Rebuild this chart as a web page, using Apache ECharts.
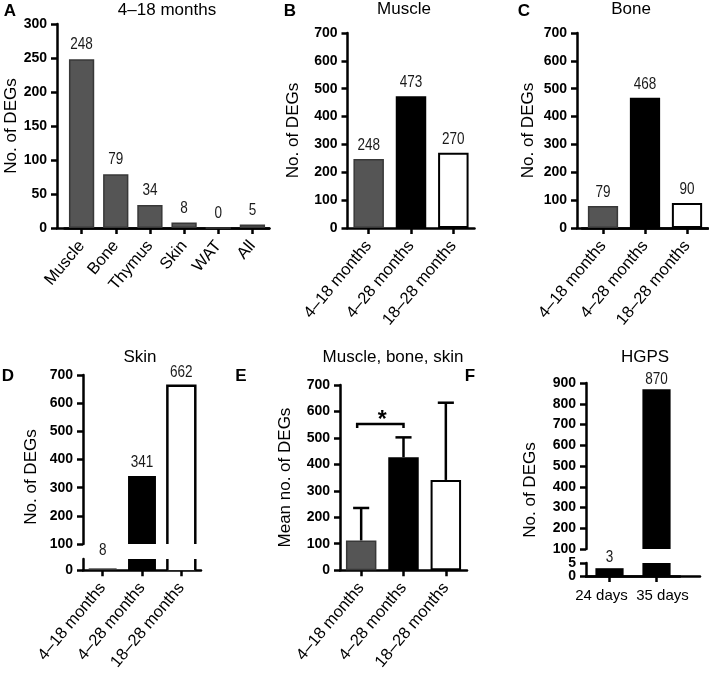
<!DOCTYPE html>
<html><head><meta charset="utf-8">
<script src="https://cdn.jsdelivr.net/npm/echarts@6/dist/echarts.min.js"></script>
<style>html,body{margin:0;padding:0;background:#fff}#c{width:709px;height:673px}</style>
</head><body><div id="c"></div>
<script>
// ---------------- data ----------------
const tissueCats = ['Muscle', 'Bone', 'Thymus', 'Skin', 'WAT', 'All'];
const tissueDEGs = [248, 79, 34, 8, 0, 5];
const periodCats = ['4–18 months', '4–28 months', '18–28 months'];
const muscleDEGs = [248, 473, 270];
const boneDEGs = [79, 468, 90];
const skinDEGs = [8, 341, 662];
const meanDEGs = [112, 427, 341];
const sdDEGs = [123, 75, 292];
const sigPair = [0, 1];
const sigLevel = [537, 553];
const sigMark = '*';
const hgpsCats = ['24 days', '35 days'];
const hgpsDEGs = [3, 870];
// value-axis ranges: [min, max, step]
const yA = [0, 300, 50];
const yB = [0, 700, 100];
const yC = [0, 700, 100];
const yDUpper = [100, 700, 100];
const yDLower = [0, 50, 50];
const yE = [0, 700, 100];
const yFUpper = [100, 900, 100];
const yFLower = [0, 5, 5];
const yFLowerTicks = [0, 5];

// ---------------- styles ----------------
const FONT = "'Liberation Sans', Arial, Helvetica, sans-serif";
const LINE = { color: '#000', width: 2.5 };
const GRAY = { color: '#555555', borderColor: '#383838', borderWidth: 1.5 };
const BLACK = { color: '#000000' };
const WHITE = { color: '#ffffff', borderColor: '#000000', borderWidth: 2 };
const periodStyle = [GRAY, BLACK, WHITE];
const ROT = 50;

const grids = [], xAxes = [], yAxes = [], series = [], graphics = [];

function addGrid(left, top, width, height) {
  grids.push({ left: left, top: top, width: width, height: height, containLabel: false });
  return grids.length - 1;
}
function yAxisDef(gi, r, extra) {
  return Object.assign({
    type: 'value', gridIndex: gi, min: r[0], max: r[1], interval: r[2],
    axisLine: { show: true, lineStyle: LINE },
    axisTick: { show: true, length: 6, lineStyle: LINE },
    axisLabel: { fontFamily: FONT, fontWeight: 'bold', fontSize: 14, color: '#000', margin: 10,
                 hideOverlap: false, showMinLabel: true, showMaxLabel: true },
    splitLine: { show: false },
    nameTextStyle: { fontFamily: FONT, fontSize: 17, color: '#000' }
  }, extra || {});
}
function xCat(gi, cats, extra) {
  return Object.assign({
    type: 'category', gridIndex: gi, data: cats,
    axisLine: { show: true, onZero: false, lineStyle: LINE },
    axisTick: { show: true, alignWithLabel: true, length: 6, lineStyle: LINE },
    axisLabel: { interval: 0, rotate: ROT, fontFamily: FONT, fontSize: 16.5, color: '#000', margin: 15 }
  }, extra || {});
}
function addAxes(x, y) { xAxes.push(x); yAxes.push(y); return [xAxes.length - 1, yAxes.length - 1]; }
function baseLine(left, top, width, height) {
  const gi = addGrid(left, top, width, height);
  addAxes({ type: 'value', gridIndex: gi, min: 0, max: 1, axisLine: { show: true, onZero: false, lineStyle: LINE },
            axisTick: { show: false }, axisLabel: { show: false }, splitLine: { show: false } },
          { type: 'value', gridIndex: gi, show: false });
}
// value labels above bars, drawn as horizontally condensed text through the axes' scales
function addValueLabels(ax, vals, dist, range) {
  series.push({ type: 'custom', xAxisIndex: ax[0], yAxisIndex: ax[1], z: 6, clip: false,
    data: vals.map(function (v, i) { return [i, v]; })
      .filter(function (d) { return !range || (d[1] > range[0] && d[1] <= range[1]); }),
    renderItem: function (p, api) {
      const v = api.value(1);
      const c = api.coord([api.value(0), v]);
      return { type: 'text', x: c[0], y: c[1] - dist, scaleX: 0.82,
        style: { text: String(v), fontFamily: FONT, fontSize: 16.5, fill: '#1a1a1a',
                 align: 'center', verticalAlign: 'bottom' } };
    } });
}
function text(x, y, t, size, weight, rot) {
  graphics.push({ type: 'text', x: x, y: y, rotation: rot || 0,
    style: { text: t, fontFamily: FONT, fontSize: size, fontWeight: weight || 'normal', fill: '#000',
             align: 'center', verticalAlign: 'middle', textAlign: 'center', textVerticalAlign: 'middle' } });
}

// ---------------- Panel A ----------------
(function () {
  const gi = addGrid(64.5, 24, 205, 204);
  const ax = addAxes(xCat(gi, tissueCats),
    yAxisDef(gi, yA, { offset: 7.5, name: 'No. of DEGs', nameLocation: 'middle', nameGap: 34 }));
  series.push({ type: 'bar', xAxisIndex: ax[0], yAxisIndex: ax[1], data: tissueDEGs, barWidth: '74%',
    itemStyle: GRAY });
  addValueLabels(ax, tissueDEGs, 6);
  baseLine(57, 24, 212, 204);
})();

// ---------------- Panels B, C ----------------
function periodPanel(left, top, width, height, vals, yr, offset, nameGap) {
  const gi = addGrid(left, top, width, height);
  const ax = addAxes(xCat(gi, periodCats),
    yAxisDef(gi, yr, { offset: offset, name: 'No. of DEGs', nameLocation: 'middle', nameGap: nameGap }));
  series.push({ type: 'bar', xAxisIndex: ax[0], yAxisIndex: ax[1], barWidth: '72%',
    data: vals.map(function (v, i) { return { value: v, itemStyle: periodStyle[i] }; }) });
  addValueLabels(ax, vals, 5);
}
periodPanel(347.5, 33, 127, 195, muscleDEGs, yB, 0, 46);
periodPanel(582, 33, 126, 195, boneDEGs, yC, 5, 40);
baseLine(577, 33, 131, 195);

// ---------------- Panel D (broken axis) ----------------
function outlineRender(params, api) {
  const cs = params.coordSys;
  const i = api.value(0), v = api.value(1);
  const c = api.coord([i, v]);
  const bw = api.size([1, 0])[0] * 0.71;
  const l = c[0] - bw / 2, r = c[0] + bw / 2;
  const bottom = cs.y + cs.height;
  if (c[1] >= bottom) return null;
  const st = { stroke: '#000', lineWidth: 2.5, fill: null };
  if (c[1] < cs.y) {
    return { type: 'group', children: [
      { type: 'line', shape: { x1: l, y1: cs.y, x2: l, y2: bottom }, style: st },
      { type: 'line', shape: { x1: r, y1: cs.y, x2: r, y2: bottom }, style: st }] };
  }
  return { type: 'polyline', shape: { points: [[l, bottom], [l, c[1]], [r, c[1]], [r, bottom]] }, style: st };
}
(function () {
  const gu = addGrid(83, 375, 118, 169);
  const gl = addGrid(83, 559, 118, 20);
  const au = addAxes(xCat(gu, periodCats, { show: false }), yAxisDef(gu, yDUpper));
  const al = addAxes(xCat(gl, periodCats), yAxisDef(gl, yDLower));
  [[au, yDUpper, 5], [al, yDLower, 9]].forEach(function (p) {
    const ax = p[0], r = p[1];
    series.push({ type: 'bar', xAxisIndex: ax[0], yAxisIndex: ax[1], barWidth: '71%', clip: true,
      data: skinDEGs.map(function (v, i) {
        const s = periodStyle[i] === WHITE ? { color: '#fff', borderWidth: 0 } : periodStyle[i];
        return { value: v, itemStyle: s };
      }) });
    series.push({ type: 'custom', xAxisIndex: ax[0], yAxisIndex: ax[1], z: 3, renderItem: outlineRender,
      data: skinDEGs.map(function (v, i) { return [i, v, periodStyle[i] === WHITE ? 1 : 0]; })
        .filter(function (d) { return d[2] === 1; }) });
    addValueLabels(ax, skinDEGs, p[2], r);
  });
  text(31, 477, 'No. of DEGs', 17, 'normal', Math.PI / 2);
})();

// ---------------- Panel E ----------------
(function () {
  const gi = addGrid(340, 385, 127, 196);
  const ax = addAxes(xCat(gi, periodCats),
    yAxisDef(gi, yE, { name: 'Mean no. of DEGs', nameLocation: 'middle', nameGap: 46 }));
  series.push({ type: 'bar', xAxisIndex: ax[0], yAxisIndex: ax[1], barWidth: '72%', z: 2,
    data: meanDEGs.map(function (v, i) { return { value: v, itemStyle: periodStyle[i] }; }) });
  series.push({ type: 'custom', xAxisIndex: ax[0], yAxisIndex: ax[1], z: 1,
    data: meanDEGs.map(function (m, i) { return [i, m, sdDEGs[i]]; }),
    renderItem: function (p, api) {
      const i = api.value(0), m = api.value(1), s = api.value(2);
      const a = api.coord([i, m]), b = api.coord([i, m + s]);
      const half = api.size([1, 0])[0] * 0.19;
      const st = { stroke: '#000', lineWidth: 2.5 };
      return { type: 'group', children: [
        { type: 'line', shape: { x1: a[0], y1: a[1], x2: b[0], y2: b[1] }, style: st },
        { type: 'line', shape: { x1: b[0] - half, y1: b[1], x2: b[0] + half, y2: b[1] }, style: st }] };
    } });
  series.push({ type: 'custom', xAxisIndex: ax[0], yAxisIndex: ax[1], z: 3,
    data: [[sigPair[0], sigPair[1], sigLevel[0], sigLevel[1]]],
    renderItem: function (p, api) {
      const i0 = api.value(0), i1 = api.value(1), lo = api.value(2), hi = api.value(3);
      const p0 = api.coord([i0, lo]), p1 = api.coord([i0, hi]), p2 = api.coord([i1, hi]), p3 = api.coord([i1, lo]);
      const shift = -4;
      return { type: 'group', children: [
        { type: 'polyline', shape: { points: [[p0[0] + shift, p0[1]], [p1[0] + shift, p1[1]], [p2[0], p2[1]], [p3[0], p3[1]]] },
          style: { stroke: '#000', lineWidth: 2.5, fill: null } },
        { type: 'text', x: (p1[0] + p2[0]) / 2, y: p1[1] - 3,
          style: { text: sigMark, fontFamily: FONT, fontSize: 23, fontWeight: 'bold', fill: '#000',
                   align: 'center', verticalAlign: 'middle' } }] };
    } });
})();

// ---------------- Panel F (broken axis) ----------------
(function () {
  const gu = addGrid(586, 383, 94, 166);
  const gl = addGrid(586, 563, 94, 13);
  const au = addAxes(xCat(gu, hgpsCats, { show: false }), yAxisDef(gu, yFUpper));
  const al = addAxes(xCat(gl, hgpsCats, { axisLabel: { interval: 0, rotate: 0, fontFamily: FONT, fontSize: 15,
      color: '#000', margin: 12,
      formatter: function (v, i) { return (i === 0 ? '{l|' : '{r|') + v + '}'; },
      rich: { l: { padding: [0, 16, 0, 0], fontFamily: FONT, fontSize: 15, color: '#000' },
              r: { padding: [0, 0, 0, 12], fontFamily: FONT, fontSize: 15, color: '#000' } } } }),
    yAxisDef(gl, yFLower, { axisLabel: { show: false } }));
  [[au, yFUpper, 1], [al, yFLower, 2]].forEach(function (p) {
    const ax = p[0], r = p[1];
    series.push({ type: 'bar', xAxisIndex: ax[0], yAxisIndex: ax[1], barWidth: '60%', clip: true,
      data: hgpsDEGs, itemStyle: BLACK });
    addValueLabels(ax, hgpsDEGs, p[2], r);
  });
  // tick labels of the short lower segment (placed through the lower y scale)
  series.push({ type: 'custom', xAxisIndex: al[0], yAxisIndex: al[1], z: 6, clip: false,
    data: yFLowerTicks.map(function (t) { return [0, t]; }),
    renderItem: function (p, api) {
      const c = api.coord([0, api.value(1)]);
      return { type: 'text', x: p.coordSys.x - 10, y: c[1],
        style: { text: String(api.value(1)), fontFamily: FONT, fontWeight: 'bold', fontSize: 14, fill: '#000',
                 align: 'right', verticalAlign: 'middle' } };
    } });
  baseLine(586, 563, 114, 13);
  text(530, 490, 'No. of DEGs', 17, 'normal', Math.PI / 2);
})();

// ---------------- titles & panel letters ----------------
text(10, 11, 'A', 17, 'bold');
text(167, 10, '4–18 months', 17);
text(290, 11, 'B', 17, 'bold');
text(404, 9, 'Muscle', 17);
text(524, 11, 'C', 17, 'bold');
text(631, 9, 'Bone', 17);
text(8, 376, 'D', 17, 'bold');
text(140, 357, 'Skin', 17);
text(241, 376, 'E', 17, 'bold');
text(393, 357, 'Muscle, bone, skin', 17);
text(470, 376, 'F', 17, 'bold');
text(645, 357, 'HGPS', 17);

const chart = echarts.init(document.getElementById('c'), null, { renderer: 'canvas' });
chart.setOption({
  animation: false, backgroundColor: '#fff',
  grid: grids, xAxis: xAxes, yAxis: yAxes, series: series, graphic: graphics
});
</script></body></html>
